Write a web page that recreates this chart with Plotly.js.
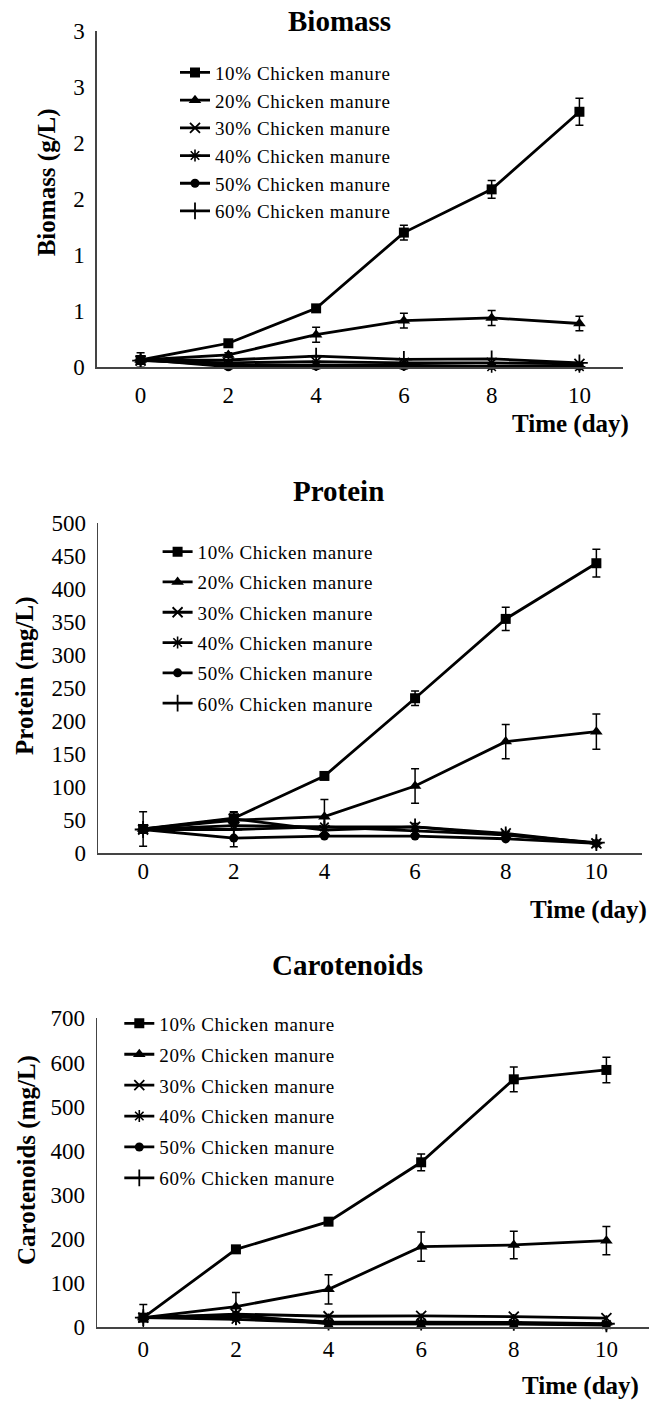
<!DOCTYPE html>
<html>
<head>
<meta charset="utf-8">
<script src="https://cdn.plot.ly/plotly-3.0.1.min.js"></script>
<style>
  html, body { margin: 0; padding: 0; background: #fff; }
  #chart { width: 649px; height: 1406px; }
  .legendtext, .infolayer [class*="legend"] text { letter-spacing: 0.6px; }
</style>
</head>
<body>
<div id="chart"></div>
<script>
// ---------- DATA ----------
const days = [0, 2, 4, 6, 8, 10];
const seriesNames = ["10% Chicken manure", "20% Chicken manure", "30% Chicken manure",
                     "40% Chicken manure", "50% Chicken manure", "60% Chicken manure"];
const panelTitles = ["Biomass", "Protein", "Carotenoids"];
const yTitles = ["Biomass (g/L)", "Protein (mg/L)", "Carotenoids (mg/L)"];
const xTitle = "Time (day)";
const xTickVals = [0, 2, 4, 6, 8, 10];

const biomassTickVals = [0, 0.5, 1, 1.5, 2, 2.5, 3];
const biomassTickText = ["0", "1", "1", "2", "2", "3", "3"];
const proteinTickVals = [0, 50, 100, 150, 200, 250, 300, 350, 400, 450, 500];
const carotTickVals = [0, 100, 200, 300, 400, 500, 600, 700];

// Biomass (g/L)
const biomass10 = [0.065, 0.214, 0.525, 1.20, 1.585, 2.276];
const biomass10Err = [0.065, 0.02, 0.02, 0.065, 0.08, 0.12];
const biomass20 = [0.065, 0.11, 0.29, 0.415, 0.44, 0.39];
const biomass20Err = [0, 0.02, 0.066, 0.066, 0.067, 0.065];
const biomass30 = [0.06, 0.04, 0.05, 0.04, 0.04, 0.03];
const biomass40 = [0.065, 0.02, 0.02, 0.02, 0.005, 0.005];
const biomass50 = [0.07, 0.005, 0.01, 0.01, 0.015, 0.01];
const biomass60 = [0.06, 0.065, 0.1, 0.07, 0.075, 0.04];

// Protein (mg/L)
const protein10 = [36.8, 53, 117, 234.5, 354.5, 438.7];
const protein10Err = [26, 10, 4, 11, 17.5, 21];
const protein20 = [36.8, 50, 55.4, 101.8, 168.9, 184];
const protein20Err = [0, 5, 26, 26, 26, 26.5];
const protein30 = [36, 52, 35, 40, 30, 15];
const protein30Err = [0, 0, 0, 5, 0, 0];
const protein40 = [36, 42, 40, 34, 28, 15];
const protein50 = [36, 23, 26, 26, 22, 15];
const protein60 = [36, 36, 40, 40, 28, 16];
const protein60Err = [0, 26, 0, 0, 0, 0];

// Carotenoids (mg/L)
const carot10 = [21.8, 176.6, 239.3, 373.8, 561.8, 583];
const carot10Err = [30, 5, 8, 19, 28, 29];
const carot20 = [22, 46.8, 86, 182.7, 186.5, 196.3];
const carot20Err = [0, 32, 33, 33, 31, 32];
const carot30 = [22, 30, 25, 26, 24, 21];
const carot40 = [22, 18, 10, 10, 9, 6];
const carot50 = [22, 28, 8, 8, 7, 5];
const carot60 = [22, 24, 12, 12, 11, 8];

// ---------- STYLE ----------
const W = 649, H = 1406;
const px = v => v / W;
const py = v => 1 - v / H;
const FONT = "Liberation Serif";
const symbols = ["square", "triangle-up", "x-thin-open", "asterisk-open", "circle", "cross-thin-open"];
const symSizes = [10, 11, 10, 10, 9, 12];
const symLine = [0, 0, 1.8, 1.6, 0, 1.8];

function mk(name, idx, y, err, xa, ya, legendId, grp) {
  const t = {
    type: "scatter", mode: "lines+markers", x: days, y: y, name: name,
    xaxis: xa, yaxis: ya, legend: legendId, legendgroup: grp + idx,
    line: { color: "#000", width: 2.8 },
    marker: { symbol: symbols[idx], size: symSizes[idx], color: "#000",
              line: { color: "#000", width: symLine[idx] } },
    cliponaxis: false, hoverinfo: "skip"
  };
  if (err) {
    t.error_y = { type: "data", array: err, visible: true, color: "#000", thickness: 1.5, width: 4 };
  }
  return t;
}

const traces = [];
const bSeries = [[biomass10, biomass10Err], [biomass20, biomass20Err], [biomass30], [biomass40], [biomass50], [biomass60]];
const pSeries = [[protein10, protein10Err], [protein20, protein20Err], [protein30, protein30Err], [protein40], [protein50], [protein60, protein60Err]];
const cSeries = [[carot10, carot10Err], [carot20, carot20Err], [carot30], [carot40], [carot50], [carot60]];
bSeries.forEach((s, i) => traces.push(mk(seriesNames[i], i, s[0], s[1], "x", "y", "legend", "b")));
pSeries.forEach((s, i) => traces.push(mk(seriesNames[i], i, s[0], s[1], "x2", "y2", "legend2", "p")));
cSeries.forEach((s, i) => traces.push(mk(seriesNames[i], i, s[0], s[1], "x3", "y3", "legend3", "c")));

function xAxis(domain, range, anchor, standoff) {
  return {
    domain: domain, range: range, anchor: anchor,
    tickvals: xTickVals, showgrid: false, zeroline: false,
    showline: true, linecolor: "#444", linewidth: 1.3, ticks: "",
    ticklabelstandoff: standoff,
    tickfont: { family: FONT, size: 23, color: "#000" }
  };
}
function yAxis(domain, range, anchor, tickvals, ticktext, standoff) {
  const a = {
    domain: domain, range: range, anchor: anchor,
    tickvals: tickvals, showgrid: false, zeroline: false,
    showline: true, linecolor: "#444", linewidth: 1.3, ticks: "",
    ticklabelstandoff: standoff,
    tickfont: { family: FONT, size: 23, color: "#000" }
  };
  if (ticktext) a.ticktext = ticktext;
  return a;
}

function ann(text, x, y, size, bold, angle) {
  return {
    text: bold ? "<b>" + text + "</b>" : text,
    xref: "paper", yref: "paper", x: px(x), y: py(y),
    xanchor: "center", yanchor: "middle", showarrow: false,
    textangle: angle || 0,
    font: { family: FONT, size: size, color: "#000" }
  };
}

const legendBase = {
  orientation: "v", xanchor: "left", yanchor: "top",
  bgcolor: "rgba(0,0,0,0)", borderwidth: 0,
  font: { family: FONT, size: 19, color: "#000" }
};

const layout = {
  width: W, height: H,
  margin: { l: 0, r: 0, t: 0, b: 0 },
  paper_bgcolor: "#fff", plot_bgcolor: "#fff",
  font: { family: FONT, color: "#000" },
  showlegend: true,
  xaxis: xAxis([px(96.7), px(623.3)], [-1, 11], "y", 7),
  yaxis: yAxis([py(367.3), py(30.5)], [0, 3], "x", biomassTickVals, biomassTickText, 6),
  xaxis2: xAxis([px(97.8), px(641.7)], [-1, 11], "y2", -3),
  yaxis2: yAxis([py(853.3), py(522.7)], [0, 500], "x2", proteinTickVals, null, 6),
  xaxis3: xAxis([px(97), 1], [-1, 10.92], "y3", 1),
  yaxis3: yAxis([py(1327.3), py(1018.3)], [0, 700], "x3", carotTickVals, null, 6),
  legend: Object.assign({}, legendBase, { x: px(175), y: py(53.6), tracegroupgap: 0 }),
  legend2: Object.assign({}, legendBase, { x: px(157.6), y: py(532.8), tracegroupgap: 2.6 }),
  legend3: Object.assign({}, legendBase, { x: px(119.3), y: py(1004.5), tracegroupgap: 3.2 }),
  annotations: [
    ann(panelTitles[0], 339, 21.2, 29, true),
    ann(panelTitles[1], 338, 491.2, 29, true),
    ann(panelTitles[2], 347.4, 965, 29, true),
    ann(yTitles[0], 47.8, 182.5, 25, true, -90),
    ann(yTitles[1], 25, 676, 25, true, -90),
    ann(yTitles[2], 27, 1160, 25, true, -90),
    ann(xTitle, 570, 424, 25, true),
    ann(xTitle, 588.3, 910, 25, true),
    ann(xTitle, 580.3, 1386, 25, true)
  ]
};

Plotly.newPlot("chart", traces, layout, { displayModeBar: false, staticPlot: true });
</script>
</body>
</html>
